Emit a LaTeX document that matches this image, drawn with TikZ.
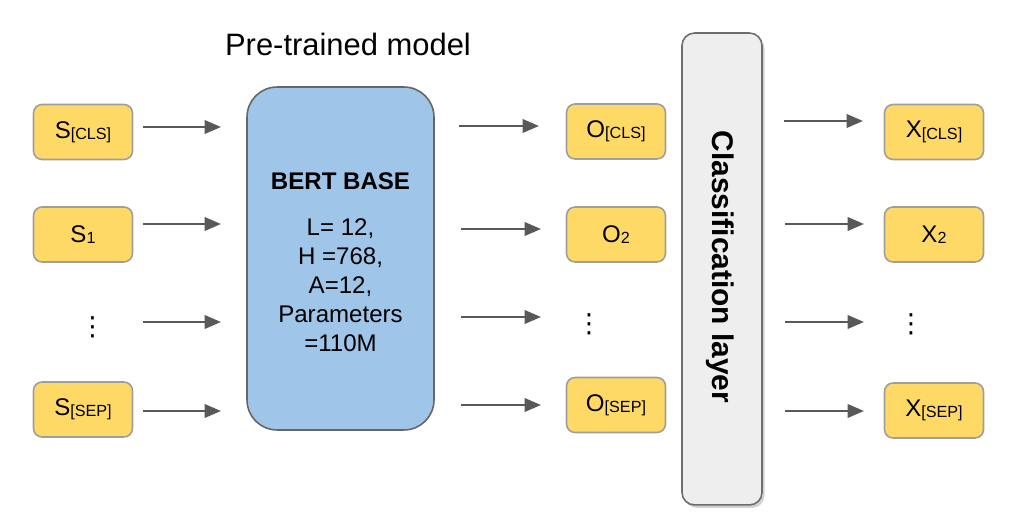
\documentclass[tikz,border=0pt]{standalone}
\usepackage{fontspec}
\setmainfont{Liberation Sans}
\newfontfamily\dejavu{DejaVu Sans}
\usetikzlibrary{arrows.meta,shadows}
\definecolor{tokfill}{HTML}{FFD966}
\definecolor{tokdraw}{HTML}{9E9E9E}
\definecolor{bertfill}{HTML}{9FC5E8}
\definecolor{bertdraw}{HTML}{666666}
\definecolor{clsfill}{HTML}{EEEEEE}
\definecolor{clsdraw}{HTML}{6E6E6E}
\definecolor{arrowc}{HTML}{595959}
\newcommand{\tsub}[1]{\raisebox{-0.8pt}{\fontsize{9.2}{9.2}\selectfont #1}}
\tikzset{
  token/.style={draw=tokdraw, fill=tokfill, line width=0.9pt, rounded corners=0.17cm,
    minimum width=1.98cm, minimum height=1.1cm, inner sep=0pt,
    font=\fontsize{13.7}{13.7}\selectfont},
  vdotsnode/.style={inner sep=0pt, font=\dejavu\fontsize{15}{15}\selectfont},
  flow/.style={draw=arrowc, line width=1.4pt, -{Triangle[length=0.33cm,width=0.27cm]}},
}
\begin{document}
\begin{tikzpicture}[x=0.02cm,y=-0.02cm]
\useasboundingbox (0,0) rectangle (1024,526);
% title
\node[inner sep=0pt, font=\fontsize{17.6}{17.6}\selectfont] (title) at (348,44) {Pre-trained model};
% input tokens
\node[token] (s1) at (83,132) {S\tsub{[CLS]}};
\node[token] (s2) at (83,234.5) {S\tsub{1}};
\node[vdotsnode] (s3) at (92.5,327.5) {⋮};
\node[token] (s4) at (83,409.5) {S\tsub{[SEP]}};
% BERT
\node[draw=bertdraw, fill=bertfill, line width=0.9pt, rounded corners=0.6cm,
  minimum width=3.74cm, minimum height=6.86cm] (bert) at (340.5,258.5) {};
\node[inner sep=0pt, font=\fontsize{13.7}{13.7}\bfseries\selectfont] (berttitle) at (340.5,181) {BERT BASE};
\node[inner sep=0pt, align=center, font=\fontsize{13.7}{16.6}\selectfont, anchor=north] (bertparams) at (340.5,218)
  {L= 12,\\H =768,\\A=12,\\Parameters\\=110M};
% output tokens
\node[token] (o1) at (616,131.5) {O\tsub{[CLS]}};
\node[token] (o2) at (616,234.5) {O\tsub{2}};
\node[vdotsnode] (o3) at (589,324) {⋮};
\node[token] (o4) at (616,405) {O\tsub{[SEP]}};
% classification layer
\node[draw=clsdraw, fill=clsfill, line width=0.9pt, rounded corners=0.25cm,
  minimum width=1.6cm, minimum height=9.44cm,
  drop shadow={shadow xshift=0.05cm, shadow yshift=-0.06cm, fill=black!35}] (cls) at (722,269) {};
\node[rotate=-90, inner sep=0pt, font=\fontsize{17}{17}\bfseries\selectfont] (clstext) at (720,267) {Classification layer};
% final tokens
\node[token] (x1) at (934,132) {X\tsub{[CLS]}};
\node[token] (x2) at (934,234.5) {X\tsub{2}};
\node[vdotsnode] (x3) at (911,324) {⋮};
\node[token] (x4) at (934,410.5) {X\tsub{[SEP]}};
% arrow end points
\coordinate (la1) at (143,127); \coordinate (lb1) at (221,127);
\coordinate (la2) at (143,224); \coordinate (lb2) at (221,224);
\coordinate (la3) at (143,322); \coordinate (lb3) at (221,322);
\coordinate (la4) at (143,411); \coordinate (lb4) at (221,411);
\coordinate (ma1) at (459,126); \coordinate (mb1) at (539,126);
\coordinate (ma2) at (461,229); \coordinate (mb2) at (541,229);
\coordinate (ma3) at (461,317); \coordinate (mb3) at (541,317);
\coordinate (ma4) at (461,405); \coordinate (mb4) at (541,405);
\coordinate (ra1) at (784,121); \coordinate (rb1) at (863,121);
\coordinate (ra2) at (785,224); \coordinate (rb2) at (864,224);
\coordinate (ra3) at (785,322); \coordinate (rb3) at (864,322);
\coordinate (ra4) at (785,411); \coordinate (rb4) at (864,411);
\foreach \i in {1,2,3,4} {
  \draw[flow] (la\i) -- (lb\i);
  \draw[flow] (ma\i) -- (mb\i);
  \draw[flow] (ra\i) -- (rb\i);
}
\end{tikzpicture}
\end{document}
